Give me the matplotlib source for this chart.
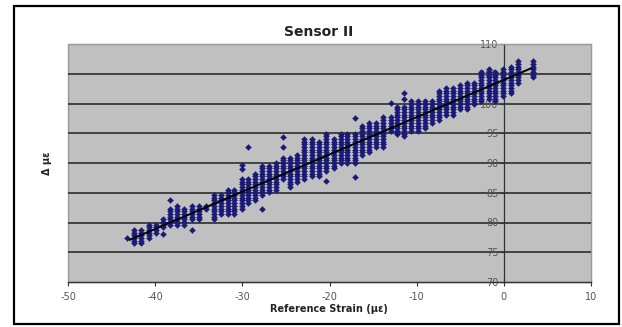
import numpy as np
import matplotlib
matplotlib.use("Agg")
import matplotlib.pyplot as plt
from matplotlib.patches import Rectangle

# ---- data ----
col_x  = [-43.2, -42.4, -41.6, -40.7, -39.9, -39.1, -38.3, -37.5, -36.7, -35.8, -35.0, -34.2,
          -33.3, -32.5, -31.7, -30.9, -30.0, -29.3, -28.5, -27.7, -26.9, -26.1, -25.3, -24.5,
          -23.7, -22.9, -22.0, -21.2, -20.4, -19.5, -18.7, -18.0, -17.1, -16.3, -15.5, -14.7,
          -13.9, -13.0, -12.3, -11.5, -10.6, -9.8, -9.0, -8.2, -7.4, -6.6, -5.8, -5.0,
          -4.2, -3.4, -2.6, -1.7, -1.0, -0.1, 0.8, 1.6, 3.3]
col_lo = [77.2, 76.4, 76.4, 77.1, 78.1, 79.0, 79.5, 79.5, 79.5, 80.3, 80.3, 82.2,
          80.2, 81.1, 81.1, 81.1, 82.2, 83.0, 83.6, 84.3, 84.8, 85.3, 87.0, 85.9,
          86.7, 87.0, 87.6, 87.6, 88.5, 89.0, 89.9, 89.9, 89.9, 91.3, 91.6, 92.4,
          92.7, 95.0, 94.7, 94.1, 95.0, 95.2, 95.5, 96.4, 97.2, 98.1, 98.1, 98.7,
          98.9, 99.5, 100.1, 100.6, 100.1, 100.9, 101.5, 103.2, 104.0]
col_hi = [77.7, 79.1, 79.1, 79.9, 79.9, 80.7, 82.6, 83.0, 82.5, 83.2, 83.0, 83.0,
          84.8, 84.8, 85.6, 85.6, 87.5, 87.3, 88.2, 89.6, 89.9, 90.4, 91.0, 91.3,
          91.6, 94.4, 94.4, 93.8, 95.2, 94.4, 95.2, 95.2, 95.2, 96.7, 96.9, 96.9,
          97.8, 98.0, 99.5, 99.5, 100.4, 100.4, 100.4, 100.6, 102.3, 102.6, 102.6, 103.2,
          103.5, 103.8, 105.5, 106.0, 105.7, 106.0, 106.6, 107.4, 107.4]
out_x = [-39.1, -38.3, -35.8, -30.0, -30.0, -29.3, -27.7, -25.3, -25.3, -20.4, -17.1, -17.1,
         -13.0, -11.5, -11.5]
out_y = [78.0, 83.7, 78.8, 89.6, 89.0, 92.7, 82.2, 94.4, 92.7, 87.0, 97.5, 87.6,
         100.1, 101.8, 100.8]
y_resolution = 0.45

trend_x = [-42.9, 3.1]
trend_y = [77.1, 105.9]

x_ticks = [-50, -40, -30, -20, -10, 0, 10]
y_ticks = [70, 75, 80, 85, 90, 95, 100, 105, 110]

title = "Sensor II"
x_label = "Reference Strain (µε)"
y_label = "Δ µε"

# ---- expand columns into points ----
px, py = [], []
for x, lo, hi in zip(col_x, col_lo, col_hi):
    ys = np.arange(np.ceil(lo / y_resolution) * y_resolution, hi + 1e-6, y_resolution)
    px.extend([x] * len(ys))
    py.extend(ys)
px.extend(out_x)
py.extend(out_y)

W, H = 622, 327
fig = plt.figure(figsize=(W / 100, H / 100), dpi=100)
fig.patch.set_facecolor("white")

L, R, T, B = 68, 591, 44, 282
ax = fig.add_axes([L / W, (H - B) / H, (R - L) / W, (B - T) / H])
ax.set_facecolor("#c0c0c0")
ax.set_xlim(-50, 10)
ax.set_ylim(70, 110)

for yv in y_ticks[1:-1]:
    ax.axhline(yv, color="#383838", lw=1.3, zorder=1)

ax.scatter(px, py, marker="D", s=9, color="#1a1a7a", edgecolors="#1a1a7a",
           linewidths=0.3, zorder=3)
ax.plot(trend_x, trend_y, color="black", lw=1.4, zorder=4)

# spines
ax.spines["left"].set_position(("data", 0))
ax.spines["left"].set_color("#333333")
ax.spines["left"].set_linewidth(0.9)
ax.spines["bottom"].set_color("#333333")
ax.spines["bottom"].set_linewidth(1.0)
ax.spines["top"].set_color("#9a9a9a")
ax.spines["right"].set_color("#9a9a9a")
ax.add_patch(Rectangle((0, 0), 1, 1, transform=ax.transAxes, fill=False,
                       edgecolor="#9a9a9a", lw=1.0, zorder=0.5, clip_on=False))

ax.set_xticks(x_ticks)
ax.set_yticks(y_ticks)
ax.set_xticklabels([str(v) for v in x_ticks])
ax.set_yticklabels([str(v) for v in y_ticks])
ax.tick_params(axis="both", labelsize=7, colors="#333333", labelcolor="#555555",
               length=3, width=0.8, direction="out")
ax.tick_params(axis="x", pad=4)
ax.tick_params(axis="y", pad=1)

fig.text(319 / W, 1 - 32 / H, title, ha="center", va="center",
         fontsize=10, fontweight="bold", color="#222222")
fig.text(329 / W, 1 - 309 / H, x_label, ha="center", va="center",
         fontsize=7, fontweight="bold", color="#222222")
fig.text(47 / W, 1 - 163 / H, y_label, ha="center", va="center", rotation=90,
         fontsize=7, fontweight="bold", color="#222222")

fig.patches.append(Rectangle((14 / W, 3 / H), 605 / W, 318 / H, transform=fig.transFigure,
                             fill=False, edgecolor="black", lw=1.6, figure=fig))

fig.savefig("out.png", dpi=100)
